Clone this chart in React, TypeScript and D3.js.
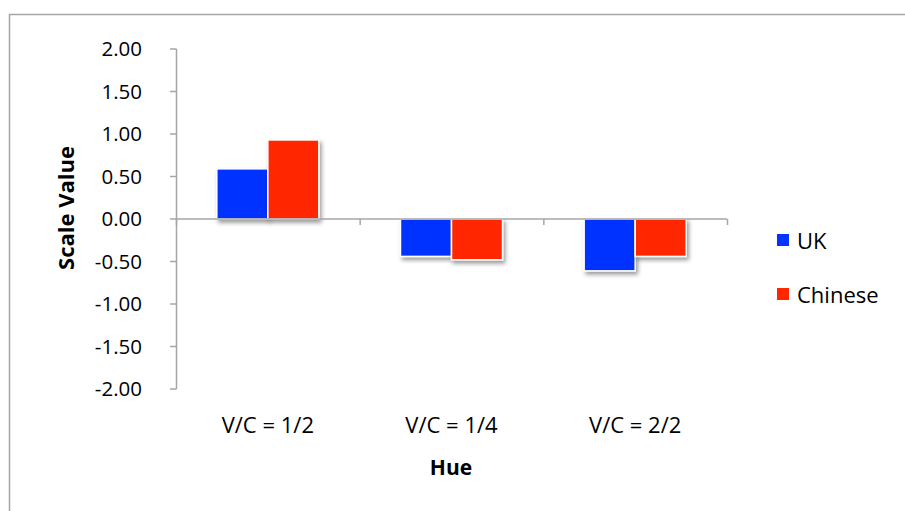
import React from "react";
import * as d3 from "d3";

const categories = ["V/C = 1/2", "V/C = 1/4", "V/C = 2/2"];
const seriesNames = ["UK", "Chinese"];
const ukValues = [0.59, -0.44, -0.61];
const chineseValues = [0.93, -0.48, -0.44];
const yTicks = [2, 1.5, 1, 0.5, 0, -0.5, -1, -1.5, -2];
const colors = ["#0433FF", "#FF2600"];

const FONT = "'Open Sans', 'Liberation Sans', sans-serif";
const fmt = d3.formatLocale({ decimal: ".", thousands: ",", grouping: [3], currency: ["", ""], minus: "-" }).format(".2f");

export default function App() {
  const W = 905;
  const H = 511;
  const x0 = d3.scaleBand<string>().domain(categories).range([176, 727]).paddingInner(0).paddingOuter(0);
  const x1 = d3.scaleBand<string>().domain(seriesNames).range([0, x0.bandwidth()]).paddingInner(0).paddingOuter(0.8);
  const y = d3.scaleLinear().domain([-2, 2]).range([389, 49]);
  const values = [ukValues, chineseValues];
  const axisColor = "#A6A6A6";

  return (
    <svg width={W} height={H} style={{ position: "absolute", left: 0, top: 0, background: "#fff" }}>
      <defs>
        <filter id="shadow" x="-20%" y="-20%" width="150%" height="150%">
          <feDropShadow dx="2" dy="3" stdDeviation="2" floodColor="#000" floodOpacity="0.4" />
        </filter>
      </defs>
      <rect x={9.5} y={14.5} width={W + 20} height={H + 20} fill="#fff" stroke={axisColor} strokeWidth={1.5} />

      {/* y axis */}
      <line x1={176.5} x2={176.5} y1={y(2)} y2={y(-2)} stroke={axisColor} strokeWidth={1.5} />
      {yTicks.map((t) => (
        <g key={t}>
          <line x1={170} x2={176.5} y1={y(t)} y2={y(t)} stroke={axisColor} strokeWidth={1.5} />
          <text x={142} y={y(t)} dy="0.36em" textAnchor="end" fontFamily={FONT} fontSize={20.5} fill="#000">
            {fmt(t)}
          </text>
        </g>
      ))}

      {/* bars */}
      {seriesNames.map((s, si) =>
        categories.map((c, ci) => {
          const v = values[si][ci];
          const bx = (x0(c) as number) + (x1(s) as number);
          const top = Math.min(y(v), y(0));
          const h = Math.abs(y(v) - y(0));
          return (
            <rect
              key={s + c}
              x={bx}
              y={top}
              width={x1.bandwidth()}
              height={h}
              fill={colors[si]}
              stroke="#fff"
              strokeWidth={1.5}
              filter="url(#shadow)"
            />
          );
        })
      )}

      {/* x axis */}
      <line x1={176} x2={727} y1={y(0)} y2={y(0)} stroke={axisColor} strokeWidth={1.5} />
      {[...categories.map((c) => x0(c) as number), 727].map((xv, i) => (
        <line key={i} x1={xv + 0.5} x2={xv + 0.5} y1={y(0)} y2={y(0) + 6} stroke={axisColor} strokeWidth={1.5} />
      ))}
      {categories.map((c) => (
        <text
          key={c}
          x={(x0(c) as number) + x0.bandwidth() / 2}
          y={425}
          dy="0.36em"
          textAnchor="middle"
          fontFamily={FONT}
          fontSize={22}
          fill="#000"
        >
          {c}
        </text>
      ))}

      <text x={451} y={467} dy="0.36em" textAnchor="middle" fontFamily={FONT} fontSize={21} fontWeight="bold" fill="#000">
        Hue
      </text>
      <text
        transform="translate(66,208) rotate(-90)"
        dy="0.36em"
        textAnchor="middle"
        fontFamily={FONT}
        fontSize={22}
        fontWeight="bold"
        fill="#000"
      >
        Scale Value
      </text>

      {/* legend */}
      {seriesNames.map((s, i) => (
        <g key={s} transform={`translate(777,${234 + i * 54})`}>
          <rect x={0} y={0} width={12} height={12} fill={colors[i]} />
          <text x={20} y={7} dy="0.36em" fontFamily={FONT} fontSize={22} fill="#000">
            {s}
          </text>
        </g>
      ))}
    </svg>
  );
}
